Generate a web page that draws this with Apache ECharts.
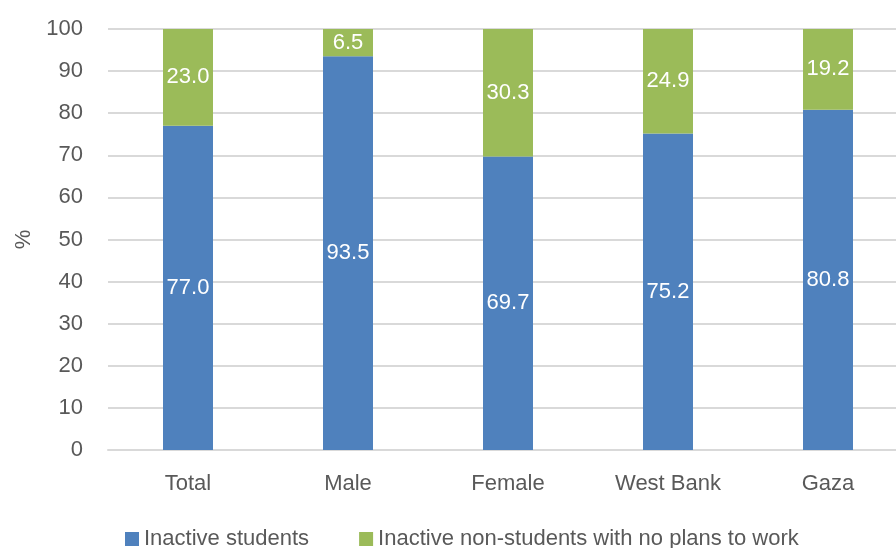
<!DOCTYPE html>
<html>
<head>
<meta charset="utf-8">
<script src="https://cdn.jsdelivr.net/npm/echarts@6/dist/echarts.min.js"></script>
<style>
  html, body { margin: 0; padding: 0; background: #fff; }
  #chart { width: 896px; height: 548px; }
</style>
</head>
<body>
<div id="chart"></div>
<script>
// Categories and shares (%)
var categories = ['Total', 'Male', 'Female', 'West Bank', 'Gaza'];
var studentsValues = [77.0, 93.5, 69.7, 75.2, 80.8];
var nonStudentsValues = [23.0, 6.5, 30.3, 24.9, 19.2];
var seriesNames = ['Inactive students', 'Inactive non-students with no plans to work'];

var FONT = '"Liberation Sans Narrow", "Arial Narrow", "Liberation Sans", sans-serif';
var TEXT = '#595959';

var chart = echarts.init(document.getElementById('chart'), null, { renderer: 'canvas' });

var labelStyle = {
  show: true,
  position: 'inside',
  color: '#ffffff',
  fontFamily: FONT,
  fontSize: 22,
  formatter: function (p) { return p.value.toFixed(1); }
};

chart.setOption({
  animation: false,
  // plot area runs past the right edge of the canvas
  grid: { left: 108, width: 800, top: 29, bottom: 98, outerBoundsMode: 'none', containLabel: false },
  legend: {
    top: 523,
    left: 120,
    itemWidth: 14,
    itemHeight: 14,
    itemGap: 50,
    icon: 'rect',
    textStyle: { color: TEXT, fontFamily: FONT, fontSize: 22 },
    data: seriesNames
  },
  xAxis: {
    type: 'category',
    data: categories,
    axisLine: { lineStyle: { color: '#d9d9d9', width: 2 } },
    axisTick: { show: false },
    axisLabel: { color: TEXT, fontFamily: FONT, fontSize: 22, margin: 23 }
  },
  yAxis: {
    type: 'value',
    min: 0,
    max: 100,
    interval: 10,
    name: '%',
    nameLocation: 'middle',
    nameGap: 70,
    nameRotate: 90,
    nameTextStyle: { color: TEXT, fontFamily: FONT, fontSize: 22 },
    axisLine: { show: false },
    axisTick: { show: false },
    axisLabel: { color: TEXT, fontFamily: FONT, fontSize: 22, margin: 25 },
    splitLine: { lineStyle: { color: '#d9d9d9', width: 2 } }
  },
  series: [
    {
      name: seriesNames[0],
      type: 'bar',
      stack: 'total',
      barWidth: 50,
      data: studentsValues,
      itemStyle: { color: '#4f81bd' },
      label: labelStyle
    },
    {
      name: seriesNames[1],
      type: 'bar',
      stack: 'total',
      barWidth: 50,
      data: nonStudentsValues,
      itemStyle: { color: '#9bbb59' },
      label: labelStyle
    }
  ]
});
</script>
</body>
</html>
